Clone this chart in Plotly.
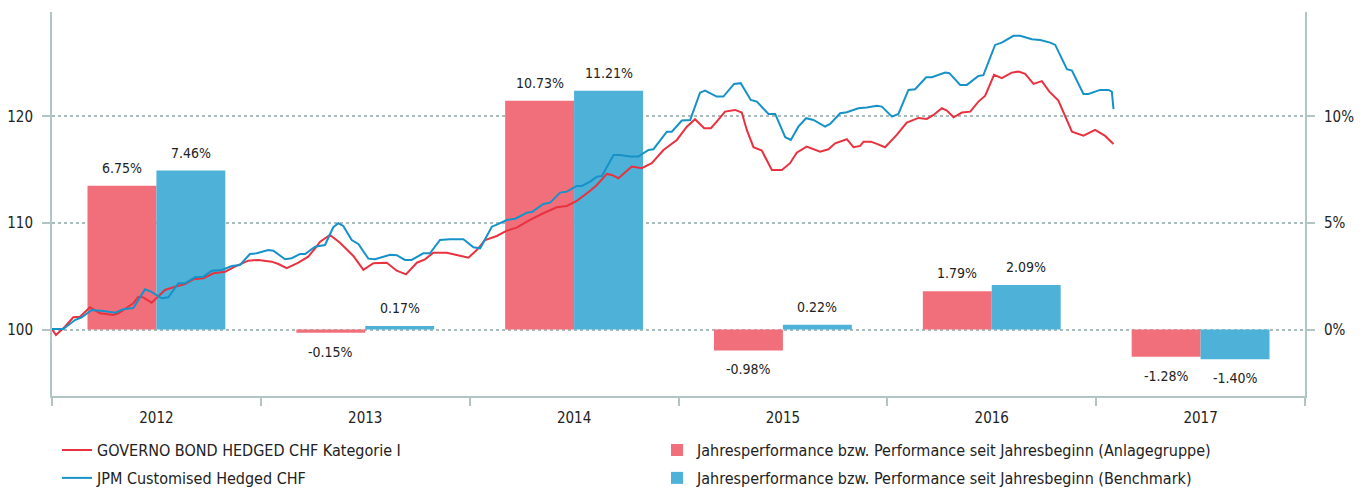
import plotly.graph_objects as go

# ---------------- data ----------------
years = ["2012", "2013", "2014", "2015", "2016", "2017"]
perf_fund = [6.75, -0.15, 10.73, -0.98, 1.79, -1.28]
perf_bench = [7.46, 0.17, 11.21, 0.22, 2.09, -1.40]

fund_t = [2012.001, 2012.019, 2012.062, 2012.102, 2012.134, 2012.182, 2012.230, 2012.294, 2012.318, 2012.365,
          2012.389, 2012.413, 2012.437, 2012.477, 2012.509, 2012.541, 2012.589, 2012.637, 2012.677, 2012.725,
          2012.773, 2012.829, 2012.876, 2012.940, 2012.988, 2013.052, 2013.084, 2013.124, 2013.180, 2013.227,
          2013.260, 2013.284, 2013.331, 2013.379, 2013.443, 2013.491, 2013.539, 2013.603, 2013.651, 2013.695,
          2013.747, 2013.786, 2013.826, 2013.890, 2013.938, 2013.994, 2014.034, 2014.074, 2014.130, 2014.178,
          2014.225, 2014.289, 2014.353, 2014.417, 2014.465, 2014.513, 2014.577, 2014.609, 2014.657, 2014.681,
          2014.712, 2014.776, 2014.824, 2014.872, 2014.928, 2014.992, 2015.040, 2015.079, 2015.123, 2015.155,
          2015.183, 2015.223, 2015.271, 2015.303, 2015.327, 2015.359, 2015.399, 2015.447, 2015.495, 2015.534,
          2015.566, 2015.614, 2015.678, 2015.718, 2015.750, 2015.806, 2015.838, 2015.870, 2015.886, 2015.921,
          2015.950, 2015.989, 2016.045, 2016.093, 2016.149, 2016.189, 2016.221, 2016.261, 2016.285, 2016.317,
          2016.357, 2016.397, 2016.436, 2016.468, 2016.511, 2016.548, 2016.596, 2016.628, 2016.660, 2016.700,
          2016.740, 2016.776, 2016.819, 2016.851, 2016.884, 2016.939, 2016.995, 2017.043, 2017.083]
fund_v = [100.00, 99.48, 100.26, 101.15, 101.20, 102.08, 101.52, 101.36, 101.52, 102.14,
          102.46, 103.08, 103.02, 102.52, 103.08, 103.71, 104.02, 104.27, 104.71, 104.81,
          105.28, 105.43, 105.90, 106.46, 106.53, 106.37, 106.15, 105.75, 106.27, 106.84,
          107.62, 108.24, 108.87, 108.15, 106.90, 105.59, 106.22, 106.27, 105.52, 105.18,
          106.27, 106.59, 107.21, 107.21, 107.00, 106.74, 107.46, 108.40, 108.78, 109.28,
          109.56, 110.28, 110.91, 111.47, 111.60, 112.07, 113.03, 113.57, 114.60, 114.51,
          114.20, 115.29, 115.14, 115.61, 116.85, 117.79, 119.04, 119.74, 118.89, 118.89,
          119.51, 120.45, 120.61, 120.36, 118.73, 117.11, 116.79, 114.98, 114.98, 115.61,
          116.60, 117.16, 116.69, 116.92, 117.48, 117.86, 117.11, 117.23, 117.63, 117.63,
          117.42, 117.11, 118.26, 119.42, 119.86, 119.77, 120.14, 120.77, 120.54, 119.92,
          120.36, 120.45, 121.39, 121.92, 123.90, 123.59, 124.11, 124.21, 123.99, 123.05,
          123.31, 122.33, 121.48, 119.98, 118.57, 118.20, 118.73, 118.17, 117.42]

bench_t = [2012.000, 2012.054, 2012.110, 2012.142, 2012.190, 2012.246, 2012.302, 2012.341, 2012.389, 2012.421,
           2012.445, 2012.474, 2012.525, 2012.557, 2012.605, 2012.637, 2012.685, 2012.725, 2012.765, 2012.813,
           2012.861, 2012.900, 2012.948, 2012.980, 2013.036, 2013.060, 2013.116, 2013.148, 2013.188, 2013.212,
           2013.260, 2013.307, 2013.347, 2013.371, 2013.395, 2013.435, 2013.467, 2013.515, 2013.547, 2013.619,
           2013.651, 2013.690, 2013.722, 2013.778, 2013.810, 2013.858, 2013.906, 2013.970, 2014.018, 2014.050,
           2014.106, 2014.130, 2014.178, 2014.218, 2014.274, 2014.298, 2014.353, 2014.385, 2014.433, 2014.465,
           2014.513, 2014.537, 2014.577, 2014.609, 2014.633, 2014.689, 2014.720, 2014.768, 2014.808, 2014.856,
           2014.880, 2014.944, 2014.968, 2015.016, 2015.056, 2015.103, 2015.127, 2015.183, 2015.215, 2015.266,
           2015.298, 2015.346, 2015.375, 2015.431, 2015.463, 2015.511, 2015.538, 2015.574, 2015.611, 2015.646,
           2015.702, 2015.726, 2015.774, 2015.806, 2015.861, 2015.902, 2015.950, 2015.974, 2016.022, 2016.053,
           2016.101, 2016.133, 2016.186, 2016.213, 2016.277, 2016.297, 2016.349, 2016.381, 2016.436, 2016.460,
           2016.516, 2016.548, 2016.604, 2016.636, 2016.692, 2016.732, 2016.780, 2016.804, 2016.860, 2016.884,
           2016.939, 2016.963, 2017.019, 2017.059, 2017.075, 2017.083]
bench_v = [100.05, 100.05, 100.89, 101.15, 101.83, 101.74, 101.58, 101.90, 102.02, 103.08,
           103.77, 103.55, 102.93, 103.02, 104.34, 104.34, 104.90, 104.96, 105.52, 105.59,
           105.96, 106.06, 107.09, 107.15, 107.46, 107.40, 106.59, 106.69, 107.09, 107.09,
           107.77, 107.93, 109.60, 109.97, 109.72, 108.40, 108.03, 106.65, 106.59, 107.02,
           106.97, 106.53, 106.53, 107.15, 107.15, 108.40, 108.47, 108.47, 107.72, 107.62,
           109.65, 109.84, 110.28, 110.40, 110.97, 111.03, 111.78, 111.91, 112.85, 112.94,
           113.47, 113.47, 113.88, 114.35, 114.41, 116.38, 116.38, 116.23, 116.23, 116.85,
           116.92, 118.57, 118.57, 119.61, 119.67, 122.23, 122.42, 121.86, 121.86, 123.05,
           123.12, 121.55, 121.39, 120.23, 120.23, 118.05, 117.79, 119.04, 119.83, 119.67,
           119.04, 119.30, 120.30, 120.39, 120.77, 120.83, 120.99, 120.92, 119.98, 120.23,
           122.49, 122.55, 123.68, 123.68, 124.11, 124.06, 122.96, 122.96, 123.80, 123.87,
           126.71, 126.93, 127.56, 127.56, 127.25, 127.18, 126.93, 126.71, 124.43, 124.30,
           122.11, 122.11, 122.49, 122.49, 122.33, 120.68]

left_ticks = [100, 110, 120]
right_ticks = [0, 5, 10]
right_tick_labels = ["0%", "5%", "10%"]

# ---------------- styles ----------------
FONT = "DejaVu Sans Condensed, DejaVu Sans, sans-serif"
TXT = "#222222"
AX = "#b2c5c5"
GRID = "#a8bcbc"
RED_LINE = "#e8323f"
BLUE_LINE = "#1692c9"
RED_BAR = "#f06f7b"
BLUE_BAR = "#4db1d8"
BARGAP = 0.34

fig = go.Figure()

fig.add_trace(go.Scatter(
    x=fund_t, y=fund_v, mode="lines", xaxis="x2", yaxis="y2",
    line=dict(color=RED_LINE, width=2),
    name="GOVERNO BOND HEDGED CHF Kategorie I", legend="legend"))
fig.add_trace(go.Bar(
    x=years, y=perf_fund, marker=dict(color=RED_BAR, line=dict(width=0)),
    name="Jahresperformance bzw. Performance seit Jahresbeginn (Anlagegruppe)",
    legend="legend"))
fig.add_trace(go.Scatter(
    x=bench_t, y=bench_v, mode="lines", xaxis="x2", yaxis="y2",
    line=dict(color=BLUE_LINE, width=2),
    name="JPM Customised Hedged CHF", legend="legend2"))
fig.add_trace(go.Bar(
    x=years, y=perf_bench, marker=dict(color=BLUE_BAR, line=dict(width=0)),
    name="Jahresperformance bzw. Performance seit Jahresbeginn (Benchmark)",
    legend="legend2"))

# value labels above / below each bar (placed on the numeric overlay x-axis)
half = (1 - BARGAP) / 4.0
for i, yr in enumerate(years):
    centre = int(yr) + 0.5
    for val, dx in ((perf_fund[i], -half), (perf_bench[i], half)):
        fig.add_annotation(
            x=centre + dx, y=val, xref="x2", yref="y",
            text=f"{val:.2f}%", showarrow=False,
            yanchor="bottom" if val >= 0 else "top",
            yshift=8 if val >= 0 else -9,
            font=dict(family=FONT, size=14, color=TXT),
        )

legend_common = dict(
    orientation="h", xanchor="left", yanchor="middle",
    entrywidth=555, entrywidthmode="pixels",
    font=dict(family=FONT, size=16, color=TXT),
    bgcolor="rgba(0,0,0,0)", itemclick=False, itemdoubleclick=False,
)

fig.update_layout(
    width=1367, height=488,
    margin=dict(l=52, r=62, t=12, b=92, autoexpand=False),
    paper_bgcolor="white", plot_bgcolor="white",
    font=dict(family=FONT, size=15, color=TXT),
    barmode="group", bargap=BARGAP, bargroupgap=0,
    showlegend=True,
    legend=dict(x=0.004, y=-0.141, **legend_common),
    legend2=dict(x=0.004, y=-0.2135, **legend_common),
    xaxis=dict(
        type="category", categoryorder="array", categoryarray=years,
        showline=True, linecolor=AX, linewidth=2,
        ticks="outside", tickson="boundaries", ticklen=8, tickwidth=2, tickcolor=AX,
        ticklabelstandoff=7,
        showgrid=False, zeroline=False,
        tickfont=dict(family=FONT, size=15, color=TXT),
    ),
    yaxis=dict(
        side="right", range=[-3.12, 14.9],
        tickmode="array", tickvals=right_ticks, ticktext=right_tick_labels,
        showline=True, linecolor=AX, linewidth=2,
        ticks="outside", ticklen=8, tickwidth=2, tickcolor=AX,
        ticklabelstandoff=6,
        showgrid=True, gridcolor=GRID, gridwidth=1.5, griddash="dot",
        zeroline=False,
        tickfont=dict(family=FONT, size=15, color=TXT),
    ),
    xaxis2=dict(
        overlaying="x", anchor="y2", range=[2012, 2018], visible=False,
    ),
    yaxis2=dict(
        overlaying="y", anchor="x", side="left", range=[93.76, 129.8],
        tickvals=left_ticks,
        showline=True, linecolor=AX, linewidth=2,
        ticks="outside", ticklen=8, tickwidth=2, tickcolor=AX,
        ticklabelstandoff=6,
        showgrid=False, zeroline=False,
        tickfont=dict(family=FONT, size=15, color=TXT),
    ),
)

fig.write_html("out.html")
